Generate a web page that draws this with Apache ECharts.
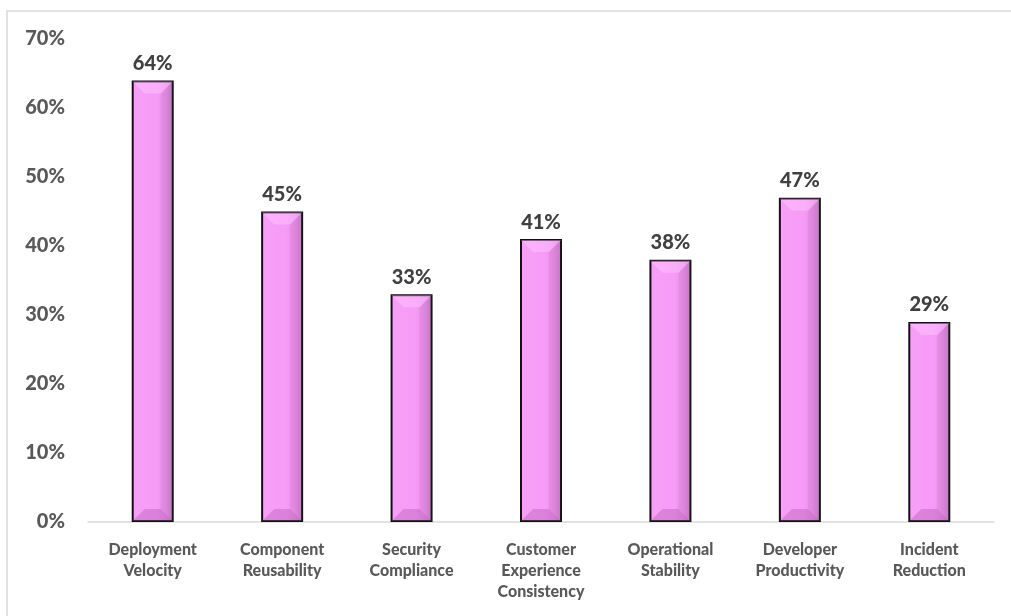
<!DOCTYPE html>
<html>
<head>
<meta charset="utf-8">
<script src="https://cdn.jsdelivr.net/npm/echarts@6/dist/echarts.min.js"></script>
<style>
html,body{margin:0;padding:0;background:#fff;}
#chart{width:1011px;height:616px;}
</style>
</head>
<body>
<div id="chart"></div>
<script>
const categories = ["Deployment\nVelocity", "Component\nReusability", "Security\nCompliance", "Customer\nExperience\nConsistency", "Operational\nStability", "Developer\nProductivity", "Incident\nReduction"];
const values = [64, 45, 33, 41, 38, 47, 29];
const yTicks = [0, 10, 20, 30, 40, 50, 60, 70];

const chart = echarts.init(document.getElementById('chart'));
const FONT = 'Lato, "Open Sans", sans-serif';
const BEV = 12;

chart.setOption({
  animation: false,
  graphic: [{
    type: 'rect', shape: {x: 7, y: 11, width: 1100, height: 700},
    style: {fill: 'none', stroke: '#d9d9d9', lineWidth: 1.5}, silent: true
  }],
  grid: {left: 88, right: 17, top: 39, bottom: 94},
  xAxis: {
    type: 'category', data: categories,
    axisLine: {lineStyle: {color: '#d9d9d9', width: 1.5}},
    axisTick: {show: false},
    axisLabel: {color: '#595959', fontFamily: FONT, fontWeight: 900, fontSize: 16, lineHeight: 21, margin: 17, interval: 0}
  },
  yAxis: {
    type: 'value', min: yTicks[0], max: yTicks[yTicks.length - 1], interval: 10,
    splitLine: {show: false},
    axisLine: {show: false}, axisTick: {show: false},
    axisLabel: {formatter: '{value}%', color: '#595959', fontFamily: FONT, fontWeight: 900, fontSize: 20, margin: 23}
  },
  series: [{
    type: 'bar', data: values, barWidth: 42, z: 2,
    itemStyle: {
      color: {type: 'linear', x: 0, y: 0, x2: 1, y2: 0, colorStops: [
        {offset: 0, color: '#f7a0f7'}, {offset: 0.6, color: '#f69bf6'}, {offset: 0.8, color: '#e88fe8'}, {offset: 1, color: '#c97bc9'}]},
      borderColor: '#111', borderWidth: 2
    },
    label: {show: true, position: 'top', distance: 7, formatter: '{c}%', color: '#404040', fontFamily: FONT, fontWeight: 900, fontSize: 20}
  }, {
    type: 'custom', data: values, z: 3, silent: true,
    renderItem: function (params, api) {
      const top = api.coord([api.value(0), api.value(1)]);
      const bot = api.coord([api.value(0), 0]);
      const w = 40, cx = top[0], l = cx - w / 2, r = cx + w / 2;
      const t = top[1] + 1, b = bot[1] - 1;
      return {type: 'group', children: [
        {type: 'polygon', shape: {points: [[l, t], [r, t], [r - BEV, t + BEV], [l + BEV, t + BEV]]},
         style: {fill: 'rgba(255,200,255,0.45)'}},
        {type: 'polygon', shape: {points: [[l, b], [r, b], [r - BEV, b - BEV], [l + BEV, b - BEV]]},
         style: {fill: 'rgba(170,80,170,0.35)'}},
        {type: 'polygon', shape: {points: [[r, t], [r, b], [r - BEV, b - BEV], [r - BEV, t + BEV]]},
         style: {fill: 'rgba(160,70,160,0.12)'}}
      ]};
    }
  }]
});
</script>
</body>
</html>
